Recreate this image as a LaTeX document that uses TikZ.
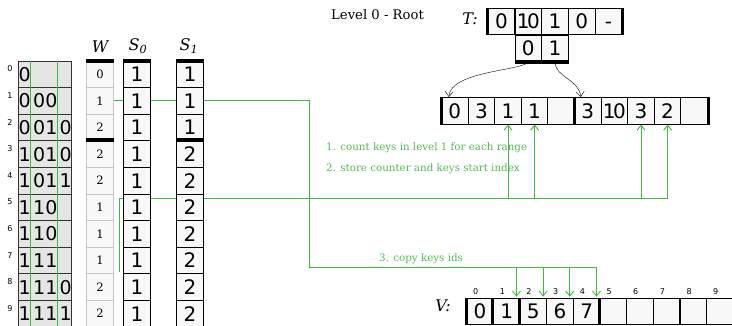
\documentclass[tikz,border=0pt]{standalone}
\usepackage{fontspec}
\setmainfont{DejaVu Serif}
\setsansfont{DejaVu Sans}
\usetikzlibrary{arrows.meta}
\definecolor{linkgreen}{RGB}{70,180,70}
\definecolor{notegreen}{RGB}{90,180,90}
\definecolor{cellfill}{RGB}{248,248,248}
\definecolor{keyfill}{RGB}{229,229,229}
\pgfdeclarelayer{bg}
\pgfsetlayers{bg,main}
\newcommand{\tenkey}{1\kern-2.5pt 0}

\begin{document}
\begin{tikzpicture}[x=1pt,y=-1pt,
  cell/.style={draw,fill=cellfill,line width=1pt,minimum width=26.6pt,minimum height=26.6pt,inner sep=0pt,text height=14.6pt,text depth=0pt,font=\fontsize{20}{20}\sffamily},
  wcell/.style={cell,draw=gray!45,text height=8.4pt,font=\fontsize{11.5}{12}\selectfont},
  keycell/.style={draw=black!80,fill=keyfill,line width=0.8pt,minimum width=53pt,minimum height=26.6pt,inner sep=0pt},
  keytxt/.style={anchor=west,inner sep=0pt,font=\fontsize{19}{19}\sffamily},
  idx/.style={inner sep=0pt,font=\fontsize{8}{8}\sffamily},
  bar/.style={line width=4pt},
  vbar/.style={line width=3pt},
  link/.style={draw=linkgreen,line width=0.9pt},
  tip/.style={-{Straight Barb[length=5pt,width=8pt]}},
  note/.style={anchor=west,inner sep=0pt,text=notegreen,font=\fontsize{10.3}{10.3}\selectfont},
  title/.style={inner sep=0pt,font=\fontsize{16}{16}\itshape}]

\useasboundingbox (0,0) rectangle (732,325);

% keys
\foreach \a/\b/\c [count=\i from 0] in {0//,0/00/,0/01/0,1/01/0,1/01/1,1/10/,1/10/,1/11/,1/11/0,1/11/1} {
  \node[keycell] (key\i) at (44.5,74.3+26.6*\i) {};
  \node[keytxt] (ka\i) at (18.5,74.3+26.6*\i) {\a};
  \node[keytxt] (kb\i) at (33,74.3+26.6*\i) {\b};
  \node[keytxt] (kc\i) at (59.5,74.3+26.6*\i) {\c};
  \node[idx] (ki\i) at (10,69+26.6*\i) {\i};
}
\draw[link] ([xshift=13pt]key0.north west) -- ([xshift=13pt]key9.south west);
\draw[link] ([xshift=40pt]key0.north west) -- ([xshift=40pt]key9.south west);

% W, S0, S1
\foreach \n [count=\i from 0] in {0,1,2,2,2,1,1,1,2,2}
  \node[wcell] (w\i) at (100,74.3+26.6*\i) {\n};
\foreach \n [count=\i from 0] in {1,1,1,1,1,1,1,1,1,1}
  \node[cell] (sa\i) at (137,74.3+26.6*\i) {\n};
\foreach \n [count=\i from 0] in {1,1,1,2,2,2,2,2,2,2}
  \node[cell] (sb\i) at (190,74.3+26.6*\i) {\n};
\draw[bar] (w0.north west) -- (w0.north east);
\draw[bar] (w3.north west) -- (w3.north east);
\draw[bar] (w9.south west) -- (w9.south east);
\draw[bar] (sa0.north west) -- (sa0.north east);
\draw[bar] (sb0.north west) -- (sb0.north east);
\draw[bar] (sb3.north west) -- (sb3.north east);
\node[title] (wlab) at (100,47) {W};
\node[title] (salab) at (138,46) {S\textsubscript{0}};
\node[title] (sblab) at (189,46) {S\textsubscript{1}};

% tree
\node[anchor=west,inner sep=0pt,font=\fontsize{13.2}{14}\selectfont] (lvl) at (331,15) {Level 0 - Root};
\node[title] (tlab) at (470,19) {T:};
\foreach \n [count=\i from 0] in {0,\tenkey,1,0,-}
  \node[cell] (t\i) at (501.6+26.7*\i,21.6) {\n};
\node[cell] (tt0) at (528.3,48.3) {0};
\node[cell] (tt1) at (555,48.3) {1};
\draw[vbar] (t0.north west) -- (t0.south west);
\draw[vbar] (t4.north east) -- (t4.south east);
\draw[bar] (tt0.south west) -- (tt1.south east);

% level 1
\foreach \n [count=\i from 0] in {0,3,1,1,{},3,\tenkey,3,2,{}}
  \node[cell] (lv\i) at (454.8+26.6*\i,110.7) {\n};
\draw[vbar] (lv0.north west) -- (lv0.south west);
\draw[vbar] (lv5.north west) -- (lv5.south west);
\draw[vbar] (lv9.north east) -- (lv9.south east);
\draw[tip] (tt0.south) .. controls +(-8,9) and +(2,-26) .. ([xshift=-6pt]lv0.north);
\draw[tip] (tt1.south) .. controls +(1,16) and +(-2,-18) .. ([xshift=-7pt]lv5.north);

% V
\node[title] (vlab) at (443,306) {V:};
\foreach \n [count=\i from 0] in {0,1,5,6,7,{},{},{},{},{}} {
  \node[cell] (v\i) at (480+26.67*\i,311.5) {\n};
  \node[idx] (vi\i) at (475.7+26.67*\i,292) {\i};
}
\draw[vbar] (v0.north west) -- (v0.south west);
\draw[vbar] (v1.north west) -- (v1.south west);
\draw[vbar] (v2.north west) -- (v2.south west);
\draw[vbar] (v5.north west) -- (v5.south west);

% steps
\node[note] (step1) at (326,148) {1. count keys in level 1 for each range};
\node[note] (step2) at (326,169) {2. store counter and keys start index};
\node[note] (step3) at (379,259) {3. copy keys ids};

\begin{pgfonlayer}{bg}
\coordinate (turn) at (309,267);
\foreach \i in {1,...,4}
  \coordinate (d\i) at ([xshift=-4pt,yshift=1pt]v\i.north east);
\draw[link] (w1.east) -| (turn) -- (d4 |- turn);
\foreach \i in {1,...,4}
  \draw[link,tip] (d\i |- turn) -- (d\i);
\coordinate (low) at (119,272);
\coordinate (high) at (119,198);
\draw[link] (low) -- (high) -- (high -| lv8.south);
\foreach \i in {2,3,7,8}
  \draw[link,tip] (high -| lv\i.south) -- (lv\i.south);
\end{pgfonlayer}
\end{tikzpicture}
\end{document}
